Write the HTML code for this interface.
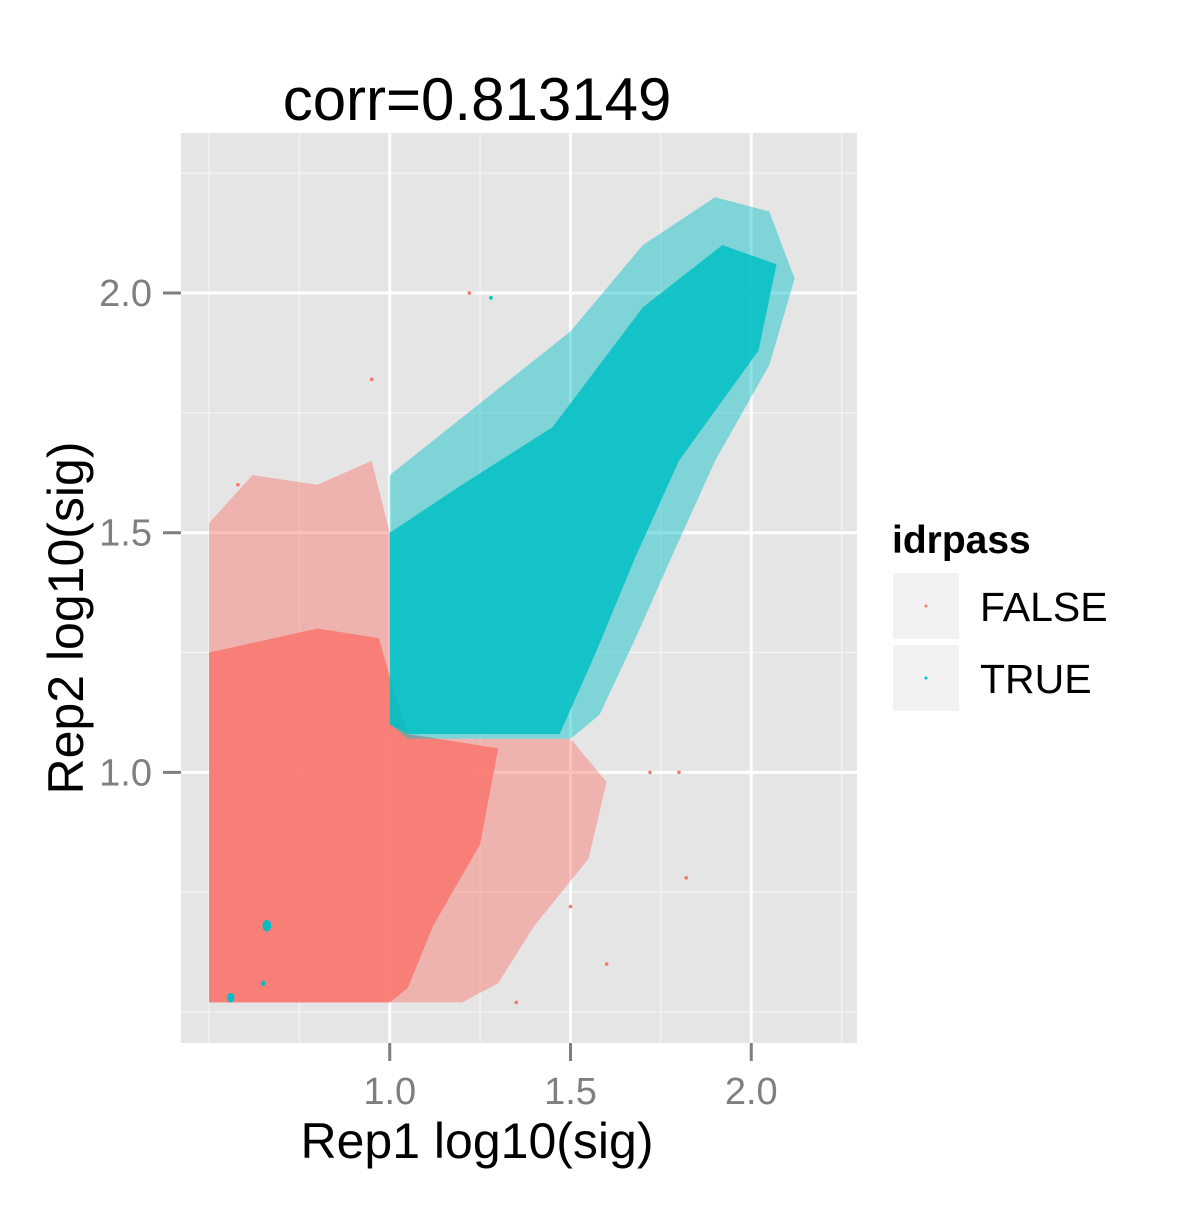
<!DOCTYPE html>
<html><head><meta charset="utf-8"><style>
body{margin:0;background:#fff}
svg text{font-family:"Liberation Sans",sans-serif}
</style></head><body>
<svg id="chart" width="1200" height="1200" viewBox="0 0 1200 1200" xmlns="http://www.w3.org/2000/svg">
<rect width="1200" height="1200" fill="#fff"/>
<text x="477" y="120" font-size="60" text-anchor="middle">corr=0.813149</text>
<rect x="181" y="133" width="676" height="910" fill="#E5E5E5"/>
<g id="grid"></g>
<g id="marks"></g>
<g id="axes"></g>
<text x="477" y="1158" font-size="50" text-anchor="middle">Rep1 log10(sig)</text>
<text transform="translate(83,618) rotate(-90)" font-size="50" text-anchor="middle">Rep2 log10(sig)</text>
<g>
<text x="892" y="553" font-size="39" font-weight="bold">idrpass</text>
<g>
<rect x="893" y="573" width="66" height="66" fill="#F2F2F2"/>
<circle cx="926" cy="606" r="1.5" fill="#F8766D"/>
<text x="980" y="621" font-size="41">FALSE</text></g>
<g>
<rect x="893" y="645" width="66" height="66" fill="#F2F2F2"/>
<circle cx="926" cy="678" r="1.5" fill="#00BFC4"/>
<text x="980" y="693" font-size="41">TRUE</text></g>
</g>
</svg>
<script>
const xMajor=[1.0,1.5,2.0];
const yMajor=[1.0,1.5,2.0];
const xMinor=[0.5,0.75,1.25,1.75,2.25];
const yMinor=[0.5,0.75,1.25,1.75,2.25];
// density region outlines (data coordinates)
const redOuter=[[0.5,0.52],[0.5,1.52],[0.62,1.62],[0.8,1.6],[0.95,1.65],[1.0,1.5],[1.0,1.1],[1.05,1.07],[1.5,1.07],[1.6,0.98],[1.55,0.82],[1.4,0.68],[1.3,0.56],[1.2,0.52]];
const redInner=[[0.5,0.52],[0.5,1.25],[0.8,1.3],[0.97,1.28],[1.0,1.2],[1.05,1.08],[1.3,1.05],[1.25,0.85],[1.12,0.68],[1.05,0.55],[1.0,0.52]];
const tealOuter=[[1.0,1.1],[1.0,1.62],[1.1,1.68],[1.3,1.8],[1.5,1.92],[1.7,2.1],[1.9,2.2],[2.05,2.17],[2.12,2.03],[2.05,1.85],[1.9,1.65],[1.78,1.45],[1.68,1.28],[1.58,1.12],[1.5,1.07],[1.05,1.07]];
const tealInner=[[1.0,1.1],[1.0,1.5],[1.2,1.6],[1.45,1.72],[1.7,1.97],[1.92,2.1],[2.07,2.06],[2.02,1.88],[1.8,1.65],[1.68,1.45],[1.57,1.25],[1.47,1.08],[1.05,1.08]];
const tealBlobX=[0.66,0.56,0.65];
const tealBlobY=[0.68,0.53,0.56];
const tealBlobR=[0.012,0.01,0.006];
const outX=[1.22,1.28,1.72,1.8,1.6,1.5,0.95,0.58,1.82,1.35];
const outY=[2.0,1.99,1.0,1.0,0.6,0.72,1.82,1.6,0.78,0.52];
const outTrue=[0,1,0,0,0,0,0,0,0,0];
const X=v=>209+(v-0.5)*361.5, Y=v=>1012-(v-0.5)*479.3;
const NS="http://www.w3.org/2000/svg";
function mk(t,a,p){const e=document.createElementNS(NS,t);for(const k in a)e.setAttribute(k,a[k]);p.appendChild(e);return e;}
const grid=document.getElementById('grid'),marks=document.getElementById('marks'),axes=document.getElementById('axes');
xMinor.forEach(v=>{const l=mk('line',{x1:X(v),x2:X(v),y1:133,y2:1043,stroke:'#F2F2F2','stroke-width':1.5},grid);

});
yMinor.forEach(v=>{const l=mk('line',{x1:181,x2:857,y1:Y(v),y2:Y(v),stroke:'#F2F2F2','stroke-width':1.5},grid);

});
xMajor.forEach(v=>{const l=mk('line',{x1:X(v),x2:X(v),y1:133,y2:1043,stroke:'#fff','stroke-width':3},grid);


const t=mk('line',{x1:X(v),x2:X(v),y1:1043,y2:1061,stroke:'#7F7F7F','stroke-width':3},axes);


const tx=mk('text',{x:X(v),y:1104,'font-size':38,fill:'#7F7F7F','text-anchor':'middle'},axes);tx.textContent=v.toFixed(1);

});
yMajor.forEach(v=>{const l=mk('line',{x1:181,x2:857,y1:Y(v),y2:Y(v),stroke:'#fff','stroke-width':3},grid);


const t=mk('line',{x1:163,x2:181,y1:Y(v),y2:Y(v),stroke:'#7F7F7F','stroke-width':3},axes);


const tx=mk('text',{x:152,y:Y(v)+13,'font-size':38,fill:'#7F7F7F','text-anchor':'end'},axes);tx.textContent=v.toFixed(1);

});
function poly(pts,fill,op,name){const p=mk('polygon',{points:pts.map(q=>X(q[0])+','+Y(q[1])).join(' '),fill:fill,'fill-opacity':op},marks);

}
poly(redOuter,'#F8766D',0.45,'false-points-sparse');
poly(redInner,'#F8766D',0.85,'false-points-dense');
poly(tealOuter,'#00BFC4',0.45,'true-points-sparse');
poly(tealInner,'#00BFC4',0.85,'true-points-dense');
tealBlobX.forEach((v,i)=>{const c=mk('ellipse',{cx:X(v),cy:Y(tealBlobY[i]),rx:tealBlobR[i]*361,ry:tealBlobR[i]*479,fill:'#00BFC4'},marks);

});
outX.forEach((v,i)=>{const c=mk('circle',{cx:X(v),cy:Y(outY[i]),r:1.8,fill:outTrue[i]?'#00BFC4':'#F8766D'},marks);

});
</script>
</body></html>
